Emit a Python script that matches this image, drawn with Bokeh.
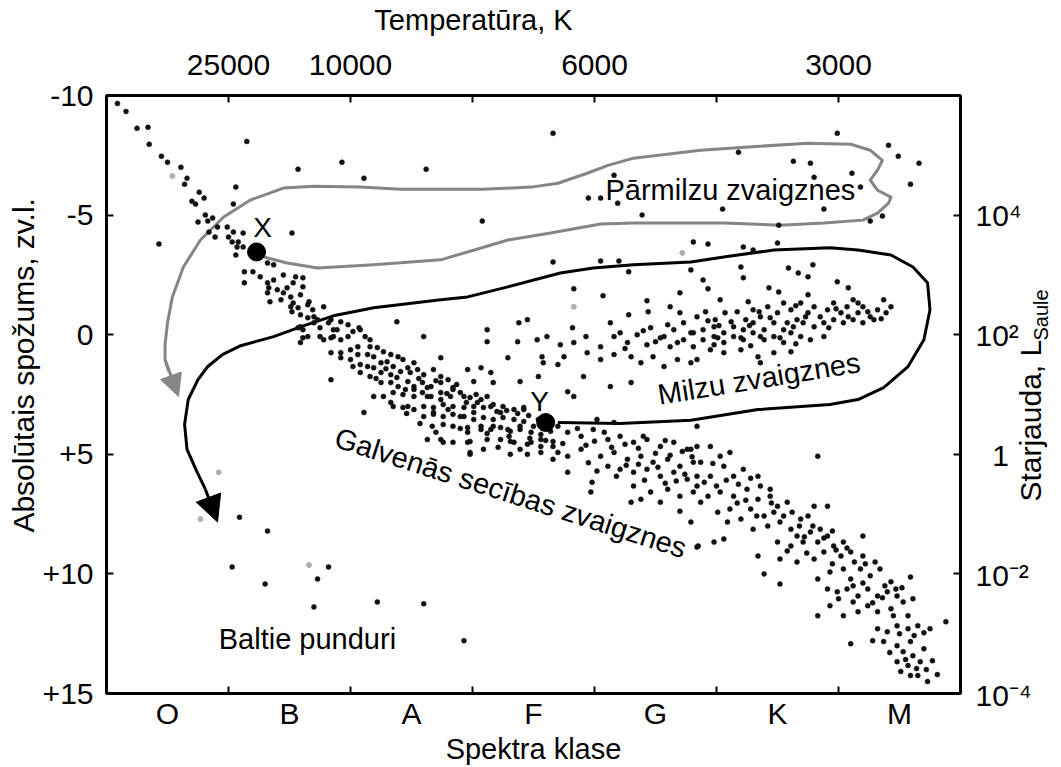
from bokeh.plotting import figure
from bokeh.models import Range1d, LinearAxis, FixedTicker, Label, Arrow, NormalHead
from bokeh.layouts import row, column
from bokeh.embed import file_html
from bokeh.resources import INLINE
import math

FONT = "Liberation Sans"
NBSP = "\u00a0"

# ---- axes: spectral classes (x = class index) and absolute magnitude (y) ----
class_names = ["O", "B", "A", "F", "G", "K", "M"]
class_pos = [0.5, 1.5, 2.5, 3.5, 4.5, 5.5, 6.5]
class_bounds = [1, 2, 3, 4, 5, 6]
temp_ticks = [1, 2, 3, 4, 5, 6]
temp_labels = ["25000", "10000", "", "6000", "", "3000"]
mag_ticks = [-10, -5, 0, 5, 10, 15]
mag_labels = ["-10", "-5", "0", "+5", "+10", "+15"]
lum_ticks = [-5, 0, 5, 10, 15]
lum_labels = ["10\u2074", "10\u00b2", "\u20071", "10\u207b\u00b2", "10\u207b\u2074"]

# ---- stars: (spectral position, absolute magnitude) ----
bright_stars = [
    (0.09, -9.67), (0.16, -9.33), (0.25, -8.63), (0.34, -8.67), (0.35, -7.96), (0.45, -7.46),
    (0.50, -7.21), (0.61, -7.00), (0.66, -6.54), (0.64, -6.29), (0.76, -5.96), (0.80, -5.71),
    (0.70, -5.58), (0.73, -5.46), (1.06, -6.17), (1.04, -5.46), (1.15, -8.08), (1.57, -6.92),
    (1.93, -7.21), (2.11, -6.54), (1.52, -4.25), (0.43, -3.79), (0.75, -4.71), (0.81, -5.00),
    (0.83, -4.75), (0.87, -4.88), (0.91, -4.50), (0.84, -4.29), (0.89, -4.08), (0.99, -4.50),
    (1.00, -4.08), (1.04, -4.29), (1.03, -3.88), (1.08, -3.88), (1.12, -4.25), (1.07, -3.67),
    (1.12, -3.67), (1.06, -3.33),
    (3.66, -8.42), (2.62, -6.92), (4.16, -6.67), (3.95, -5.71), (4.05, -5.71), (4.19, -5.50),
    (3.08, -4.75), (4.39, -5.00), (3.66, -3.04), (4.05, -3.08), (4.20, -3.08), (4.28, -2.63),
    (4.79, -2.71), (3.83, -1.92), (4.07, -1.63), (4.43, -1.42), (4.70, -1.75),
    (5.99, -8.42), (6.41, -7.92), (6.49, -7.46), (6.66, -7.17), (6.59, -6.29), (5.18, -7.63),
    (5.63, -7.25), (5.77, -7.17), (6.11, -6.75), (5.80, -6.58), (6.18, -6.17), (5.05, -5.25),
    (5.88, -5.25), (6.26, -4.75), (6.36, -4.96), (5.51, -4.58), (4.81, -3.88), (4.93, -3.79),
    (5.22, -3.67), (5.50, -3.83), (5.30, -3.54),
]

giant_stars = [
    (5.59, -2.79), (5.67, -2.58), (5.79, -2.92), (5.20, -2.83), (4.89, -2.29), (5.22, -2.38),
    (5.75, -2.42), (5.99, -2.21), (6.08, -1.96), (4.93, -1.92), (5.51, -1.79), (5.43, -1.96),
    (5.03, -1.46), (5.26, -1.38), (5.75, -1.67), (6.37, -1.46), (6.16, -1.33),
    (4.84, -0.75), (4.91, -0.96), (4.99, -0.63), (5.07, -0.92), (5.17, -0.96), (5.24, -0.63),
    (5.30, -1.04), (5.36, -0.75), (5.42, -1.17), (5.50, -0.92), (5.55, -1.33), (5.61, -1.04),
    (5.66, -0.63), (5.69, -1.33), (5.75, -0.92), (5.80, -1.17), (5.85, -0.75), (5.91, -1.04),
    (5.96, -1.33), (6.02, -0.92), (6.07, -1.17), (6.12, -1.46), (6.16, -0.92), (6.20, -1.17),
    (6.26, -0.75), (6.32, -1.04), (6.39, -0.92), (6.43, -1.17),
    (4.89, -0.21), (4.98, -0.33), (5.06, -0.08), (5.14, -0.33), (5.22, -0.21), (5.30, -0.50),
    (5.39, -0.21), (5.47, -0.50), (5.55, -0.21), (5.63, -0.33), (5.71, -0.50), (5.80, -0.33),
    (5.88, -0.50), (5.96, -0.63), (6.04, -0.50), (6.12, -0.63), (6.20, -0.50), (6.29, -0.63),
    (5.36, 0.08), (5.52, 0.13), (5.69, 0.08), (5.88, 0.08), (5.20, 0.13), (5.01, 0.13),
    (3.82, -0.29), (4.13, -0.50), (4.21, -0.08), (4.46, -0.29), (4.57, 0.08), (4.65, -0.21),
    (4.73, -0.50), (4.79, -0.08), (4.28, -0.83), (4.44, -0.96), (4.62, -1.17), (4.70, -0.92),
    (4.81, -0.08), (4.89, 0.21), (4.98, 0.08), (5.06, 0.33), (5.14, 0.08), (5.22, 0.21),
    (5.30, -0.08), (5.39, 0.21), (5.47, 0.08), (5.55, 0.33), (5.61, -0.08), (5.77, 0.21),
    (4.95, 0.63), (5.06, 0.75), (5.20, 0.63), (5.34, 0.92), (5.47, 0.75), (5.61, 0.71),
    (4.84, 1.04), (5.36, 1.17),
    (3.72, 0.42), (3.83, 0.33), (3.93, 0.08), (4.05, 0.50), (4.16, 0.08), (4.27, 0.33),
    (4.35, 0.00), (4.43, 0.42), (4.54, 0.13), (4.62, 0.50), (4.73, 0.21), (4.81, 0.50),
    (3.94, 0.75), (4.05, 1.04), (4.16, 0.83), (4.30, 0.92), (4.38, 1.17), (4.48, 0.92),
    (4.57, 1.33), (4.68, 1.04), (4.79, 1.17), (3.91, 1.75), (4.13, 2.17), (4.30, 2.00),
    (3.70, 1.25), (3.75, 0.92), (3.78, 2.38), (3.83, 2.58),
    (2.60, 0.08), (2.74, 0.96), (2.96, 1.46), (3.07, 1.38), (3.12, -0.21), (3.12, 0.29),
    (3.29, 0.96), (3.38, -0.50), (3.45, -0.63), (3.37, 0.29), (3.53, 0.21), (3.61, 0.08),
    (3.57, 0.92), (3.58, 1.17), (3.54, 1.75), (3.39, 1.96), (3.17, 2.00), (3.15, 1.58),
    (3.01, 1.96), (2.38, -0.54),
    (5.12, -0.54), (5.27, -0.38), (5.44, -0.71), (5.58, -0.50), (5.73, -0.75), (5.92, -0.29),
    (6.08, -0.75), (6.24, -0.96), (5.02, -0.38), (4.93, -0.58), (5.35, -0.96), (5.65, -1.21),
    (5.98, -1.08), (6.35, -0.67), (4.60, -0.42), (4.40, -0.17), (4.50, 0.29), (4.68, 0.33),
    (4.25, 0.58), (4.98, 0.42), (5.28, 0.46), (5.65, 0.38),
]

main_sequence = [
    (1.13, -2.63), (1.26, -2.42), (1.32, -2.17), (1.37, -2.29), (1.45, -2.50), (1.55, -2.42),
    (1.61, -2.38), (1.32, -1.75), (1.40, -1.88), (1.48, -1.96), (1.53, -2.17), (1.61, -2.00),
    (1.34, -1.38), (1.43, -1.46), (1.51, -1.58), (1.59, -1.67), (1.51, -1.17), (1.57, -1.13),
    (1.65, -1.25), (1.69, -1.04), (1.78, -1.17), (1.52, -0.96), (1.59, -0.83), (1.65, -0.71),
    (1.73, -0.63), (1.57, -0.29), (1.61, -0.21), (1.61, 0.13), (1.65, 0.08), (1.75, -0.29),
    (1.82, -0.50), (1.86, -0.21), (1.92, -0.54), (1.98, -0.42), (1.78, 0.21), (1.84, 0.13),
    (1.92, 0.21), (1.98, 0.08), (2.02, -0.13), (2.07, -0.29), (2.12, 0.08), (2.16, 0.21),
    (1.13, -2.17), (1.20, -2.63), (1.37, -2.92), (1.32, -3.00), (1.33, -1.96), (1.45, -1.75),
    (1.53, -1.33), (1.66, -1.38), (1.70, -0.75), (1.59, -0.33), (1.70, -0.50), (1.84, -0.63),
    (1.89, -0.21), (2.08, -0.21), (1.75, 0.08), (1.86, 0.08), (1.59, 0.33),
    (1.84, 0.75), (1.92, 0.75), (2.00, 0.63), (2.06, 0.50), (2.16, 0.50), (2.22, 0.54),
    (1.92, 0.96), (2.00, 1.04), (2.06, 0.83), (2.14, 0.83), (2.19, 0.92), (2.27, 0.71),
    (2.33, 0.83), (2.39, 0.92), (2.02, 1.33), (2.08, 1.25), (2.14, 1.33), (2.19, 1.38),
    (2.25, 1.17), (2.30, 1.13), (2.35, 1.33), (2.43, 1.04), (2.52, 1.17), (2.08, 1.58),
    (2.16, 1.75), (2.25, 1.58), (2.33, 1.67), (2.41, 1.54), (2.47, 1.38), (2.55, 1.46),
    (2.60, 1.67), (2.68, 1.46), (2.74, 1.75), (2.25, 2.00), (2.33, 2.00), (2.39, 2.17),
    (2.47, 1.96), (2.52, 2.17), (2.59, 2.00), (2.66, 2.17), (2.74, 2.00), (2.80, 1.88),
    (2.84, 2.21), (1.84, 1.88), (2.19, 2.58), (2.27, 2.58), (2.35, 2.42), (2.43, 2.50),
    (2.52, 2.58), (2.59, 2.42), (2.66, 2.58), (2.74, 2.42), (2.82, 2.58), (2.90, 2.42),
    (2.98, 2.63), (3.07, 2.71), (2.35, 3.00), (2.43, 3.04), (2.52, 3.13), (2.60, 3.00),
    (2.68, 3.04), (2.76, 2.92), (2.84, 3.00), (2.93, 3.04), (3.01, 3.00), (3.09, 3.04),
    (3.17, 2.92), (3.25, 3.00), (3.34, 3.13), (3.42, 3.04), (2.11, 3.25), (2.60, 3.42),
    (2.68, 3.33), (2.76, 3.42), (2.84, 3.33), (2.93, 3.42), (3.01, 3.54), (3.09, 3.46),
    (3.17, 3.54), (3.25, 3.46), (3.34, 3.54), (3.42, 3.63), (3.50, 3.83), (2.67, 3.83),
    (2.76, 3.75), (2.84, 3.83), (2.96, 3.88), (3.07, 3.83), (3.15, 3.96), (3.23, 3.88),
    (3.31, 4.04), (3.39, 3.96), (3.48, 4.08), (3.56, 4.17), (3.64, 4.04), (2.63, 4.38),
    (2.74, 4.38), (2.84, 4.50), (2.98, 4.46), (3.12, 4.38), (3.21, 4.71), (3.31, 4.46),
    (3.39, 4.79), (3.48, 4.50), (3.56, 4.67), (3.66, 4.46), (3.70, 4.92), (2.98, 4.92),
    (3.09, 4.79),
    (2.49, 1.58), (2.84, 2.29), (2.52, 2.29), (2.63, 2.58), (2.74, 2.71), (2.93, 2.58),
    (3.04, 2.83), (3.15, 3.00), (3.23, 3.25), (3.42, 3.13), (2.68, 3.25), (2.80, 3.13),
    (2.90, 3.42), (3.01, 3.25), (3.17, 3.83), (3.29, 3.96), (3.39, 3.83), (2.96, 4.08),
    (3.07, 3.96), (3.23, 4.38), (3.34, 4.50), (3.45, 4.58), (3.56, 4.38), (3.66, 4.67),
    (2.96, 4.50), (2.98, 5.00), (3.31, 5.00), (3.45, 5.00), (3.56, 4.92), (3.66, 5.21),
    (3.78, 5.08), (2.76, 4.50), (2.47, 3.00),
    (3.78, 4.08), (3.89, 4.25), (3.99, 3.96), (4.11, 4.38), (4.21, 4.25), (4.32, 4.50),
    (4.43, 4.38), (4.54, 4.67), (4.65, 4.50), (4.76, 4.79), (4.84, 4.67), (3.89, 4.79),
    (4.05, 5.08), (4.16, 4.92), (4.27, 5.21), (4.38, 5.08), (4.48, 5.33), (4.60, 5.21),
    (4.70, 5.50), (4.81, 5.33), (4.11, 5.50), (4.21, 5.63), (4.32, 5.75), (4.43, 5.63),
    (4.54, 5.92), (4.65, 5.75), (4.76, 6.04), (4.84, 5.92), (4.32, 6.33), (4.46, 6.58),
    (4.60, 6.46), (4.70, 6.75), (4.81, 6.58), (4.30, 7.00), (4.38, 6.88), (4.54, 7.00),
    (4.70, 7.38), (4.79, 7.83), (4.84, 8.88), (3.97, 6.58), (3.98, 6.17), (3.78, 5.75),
    (3.70, 3.83), (4.02, 3.54), (4.16, 3.67),
    (4.79, 4.79), (4.87, 5.33), (4.95, 4.67), (5.03, 5.08), (5.11, 4.92), (5.06, 5.50),
    (5.14, 5.92), (5.22, 5.63), (4.95, 5.92), (4.84, 6.33), (4.93, 6.75), (5.03, 6.58),
    (5.14, 6.75), (5.25, 6.46), (5.36, 6.33), (5.34, 6.88), (5.44, 6.75), (5.50, 7.17),
    (5.58, 7.00), (5.28, 7.29), (5.39, 7.58), (5.47, 7.42), (5.20, 7.71), (5.30, 8.13),
    (5.42, 8.00), (5.52, 7.83), (5.61, 8.13), (5.69, 7.71), (5.75, 7.58), (5.80, 7.17),
    (5.91, 7.17), (5.83, 5.08), (5.66, 8.42), (5.77, 8.25), (5.85, 8.13), (5.50, 8.67),
    (5.61, 8.83), (5.71, 8.67), (5.83, 8.67), (5.91, 8.42), (5.96, 8.83), (6.04, 8.67),
    (5.34, 9.25), (5.52, 9.38), (5.66, 9.50), (5.80, 9.38), (5.88, 9.08), (6.02, 9.25),
    (6.10, 9.08), (6.20, 8.42), (6.20, 9.25), (5.39, 10.00), (5.52, 10.42), (5.83, 10.21),
    (5.93, 9.92), (6.04, 9.79), (6.10, 10.21), (6.18, 9.79), (6.26, 10.08), (6.34, 9.79),
    (6.43, 10.33), (5.91, 10.63), (5.99, 10.75), (6.07, 10.63), (6.16, 10.92), (6.24, 10.63),
    (6.32, 10.92), (6.40, 10.75), (6.48, 10.92), (6.59, 10.13), (6.61, 11.04), (5.93, 11.33),
    (6.04, 11.75), (6.16, 11.58), (6.24, 11.33), (6.32, 11.58), (6.43, 11.46), (6.53, 11.17),
    (6.57, 11.75), (5.83, 11.75), (6.32, 12.29), (6.40, 12.42), (6.48, 12.17), (6.57, 12.29),
    (6.65, 12.17), (6.75, 12.29), (6.88, 12.00), (6.10, 12.92), (6.28, 12.79), (6.37, 12.83),
    (6.48, 13.00), (6.59, 12.83), (6.53, 13.25), (6.61, 13.42), (6.70, 13.13), (6.48, 13.67),
    (6.57, 13.83), (6.67, 13.67), (6.77, 13.63), (6.51, 14.08), (6.59, 14.25), (6.65, 14.25),
    (6.73, 14.50), (5.11, 7.29), (5.01, 7.42), (5.09, 7.83), (4.87, 7.00), (5.06, 8.54),
    (4.98, 8.67), (4.85, 8.83), (5.34, 5.92), (5.44, 6.46), (4.84, 3.83),
    (3.74, 4.55), (3.86, 3.92), (3.93, 4.62), (4.00, 4.45), (4.08, 4.08), (4.14, 4.71),
    (4.25, 4.58), (4.36, 4.75), (4.40, 4.25), (4.50, 4.96), (4.58, 4.42), (4.62, 5.04),
    (4.72, 4.88), (4.80, 5.10), (3.95, 5.35), (4.02, 5.70), (4.18, 5.92), (4.26, 5.46),
    (4.36, 5.42), (4.41, 6.08), (4.52, 5.54), (4.58, 6.21), (4.67, 6.12), (4.74, 5.83),
    (4.90, 6.17), (4.97, 5.38), (5.00, 6.33), (5.08, 6.08), (5.18, 6.25), (5.28, 6.00),
    (5.17, 7.04), (5.24, 6.92), (5.33, 7.58), (5.45, 7.04), (5.55, 7.58), (5.62, 7.42),
    (5.68, 8.00), (5.72, 8.45), (5.79, 8.00), (5.88, 8.50), (5.95, 8.21), (5.98, 9.00),
    (6.07, 8.92), (6.13, 9.50), (5.95, 9.58), (5.74, 9.13), (5.58, 9.04), (6.22, 9.58),
    (6.30, 9.50), (6.12, 10.50), (6.20, 10.38), (6.38, 10.50), (6.47, 10.63), (6.52, 10.58),
    (6.00, 11.04), (6.12, 11.17), (6.28, 11.21), (6.36, 11.00), (6.45, 11.75), (6.50, 12.50),
    (6.62, 12.58), (6.70, 12.46), (6.42, 13.29), (6.55, 13.58), (6.64, 13.96), (6.72, 14.00),
    (6.81, 14.21),
    (2.21, 1.83), (2.29, 1.42), (2.38, 1.79), (2.45, 2.29), (2.56, 1.83), (2.63, 2.21),
    (2.70, 1.92), (2.79, 2.46), (2.87, 2.08), (2.95, 2.83), (3.03, 2.50), (3.12, 2.58),
    (3.20, 3.21), (3.28, 3.17), (3.37, 3.29), (3.46, 3.38), (3.54, 3.54), (3.60, 4.42),
    (3.47, 4.33), (3.30, 4.25), (3.12, 4.13), (2.90, 3.92), (2.70, 4.08), (2.57, 3.71),
    (2.46, 3.29), (2.33, 2.83),
]

white_dwarfs = [
    (1.09, 7.63), (1.32, 8.21), (1.03, 9.71), (1.30, 10.42), (1.73, 10.21), (1.82, 9.71),
    (1.70, 11.38), (2.22, 11.17), (2.60, 11.25), (2.93, 12.79),
]

faint_stars = [
    (0.92, 5.75), (0.77, 7.71), (1.66, 9.63), (0.54, -6.63), (4.72, -3.42), (3.83, -1.17),
]

# ---- evolutionary tracks ----
track_x_star = (1.23, -3.46)
track_y_star = (3.60, 3.67)

grey_track = [
    (1.29, -3.25), (1.48, -3.00), (1.73, -2.79), (2.19, -2.92), (2.74, -3.13), (2.96, -3.46),
    (3.29, -3.96), (3.64, -4.25), (4.05, -4.63), (4.32, -4.67), (4.79, -4.67), (5.06, -4.67),
    (5.52, -4.58), (5.88, -4.67), (6.20, -4.79), (6.32, -5.08), (6.41, -5.50), (6.43, -5.75),
    (6.32, -6.04), (6.26, -6.46), (6.32, -6.88), (6.36, -7.29), (6.26, -7.71), (6.10, -7.96),
    (5.75, -8.00), (5.20, -7.83), (4.87, -7.71), (4.32, -7.38), (4.11, -7.08), (3.94, -6.75),
    (3.70, -6.33), (3.48, -6.17), (3.09, -6.08), (2.41, -6.08), (2.08, -6.17), (1.70, -6.21),
    (1.45, -6.13), (1.18, -5.63), (0.96, -4.92), (0.77, -3.96), (0.63, -2.83), (0.54, -1.58),
    (0.50, -0.50), (0.48, 0.42), (0.48, 1.04), (0.51, 1.54),
]
grey_arrow = ((0.48, 1.04), (0.59, 2.58))

black_track = [
    (3.70, 3.67), (4.21, 3.71), (4.79, 3.58), (5.34, 3.13), (5.93, 2.92), (6.16, 2.71),
    (6.37, 2.21), (6.57, 1.33), (6.70, 0.21), (6.75, -1.04), (6.73, -2.17), (6.61, -2.83),
    (6.43, -3.33), (6.16, -3.54), (5.93, -3.63), (5.47, -3.54), (5.06, -3.25), (4.79, -3.04),
    (4.32, -2.92), (3.99, -2.79), (3.72, -2.58), (3.29, -2.00), (2.96, -1.58), (2.74, -1.46),
    (2.19, -1.13), (1.86, -0.79), (1.59, -0.33), (1.37, 0.08), (1.10, 0.46), (0.95, 0.83),
    (0.83, 1.33), (0.75, 1.88), (0.67, 2.71), (0.64, 3.75), (0.66, 4.79), (0.74, 5.71),
    (0.81, 6.46),
]
black_arrow = ((0.81, 6.46), (0.91, 7.83))


def xs(pts):
    return [a for a, b in pts]


def ys(pts):
    return [b for a, b in pts]


def blank(fig):
    fig.grid.visible = False
    fig.outline_line_color = None
    fig.background_fill_color = "white"
    fig.border_fill_color = "white"
    if "frame_align" in fig.properties():
        fig.frame_align = False


def lab(fig, x, y, text, size="29px", align="left", baseline="alphabetic", angle=0.0):
    fig.add_layout(Label(x=x, y=y, text=text, text_font=FONT, text_font_size=size,
                         text_color="black", text_align=align, text_baseline=baseline,
                         angle=angle))


# ---------------- main chart ----------------
p = figure(width=962, height=731,
           x_range=Range1d(0, 7), y_range=Range1d(15, -10),
           output_backend="svg", toolbar_location=None,
           x_axis_location=None, y_axis_location=None,
           min_border_left=106, min_border_right=2,
           min_border_top=59, min_border_bottom=72)
p.grid.visible = False
p.outline_line_color = "black"
p.outline_line_width = 3
p.background_fill_color = "white"
p.border_fill_color = "white"


def style(ax):
    ax.axis_line_color = None
    ax.major_tick_line_color = "black"
    ax.major_tick_line_width = 2
    ax.major_tick_in = 7
    ax.major_tick_out = 0
    ax.minor_tick_line_color = None
    ax.major_label_text_font = FONT
    ax.major_label_text_font_size = "30px"
    ax.major_label_text_color = "black"
    ax.axis_label_text_font = FONT
    ax.axis_label_text_font_style = "normal"
    ax.axis_label_text_color = "black"


bottom = LinearAxis(ticker=FixedTicker(ticks=class_pos, minor_ticks=class_bounds),
                    major_label_overrides=dict(zip(class_pos, class_names)))
style(bottom)
bottom.major_tick_in = 0
bottom.minor_tick_line_color = "black"
bottom.minor_tick_line_width = 2
bottom.minor_tick_in = 7
bottom.minor_tick_out = 0
bottom.major_label_standoff = 3
bottom.axis_label = "Spektra klase"
bottom.axis_label_text_font_size = "29px"
bottom.axis_label_standoff = 0
p.add_layout(bottom, "below")

top = LinearAxis(ticker=FixedTicker(ticks=temp_ticks),
                 major_label_overrides=dict(zip(temp_ticks, temp_labels)))
style(top)
top.major_label_standoff = 21
p.add_layout(top, "above")

left = LinearAxis(ticker=FixedTicker(ticks=mag_ticks),
                  major_label_overrides=dict(zip(mag_ticks, mag_labels)))
style(left)
left.major_label_standoff = 13
left.axis_label = NBSP * 7 + "Absol\u016btais spo\u017eums, zv.l."
left.axis_label_text_font_size = "30px"
left.axis_label_standoff = 0
p.add_layout(left, "left")

# right axis: tick marks only (its labels sit in the side panel)
right = LinearAxis(ticker=FixedTicker(ticks=lum_ticks),
                   major_label_overrides={t: "" for t in lum_ticks})
style(right)
right.major_label_standoff = 0
p.add_layout(right, "right")

# tracks
p.line(xs(grey_track), ys(grey_track), line_color="#858585", line_width=3, line_join="round")
p.line(xs(black_track), ys(black_track), line_color="black", line_width=3, line_join="round")
p.add_layout(Arrow(end=NormalHead(size=22, fill_color="#858585", line_color="#858585"),
                   x_start=grey_arrow[0][0], y_start=grey_arrow[0][1],
                   x_end=grey_arrow[1][0], y_end=grey_arrow[1][1],
                   line_color="#858585", line_width=3))
p.add_layout(Arrow(end=NormalHead(size=26, fill_color="black", line_color="black"),
                   x_start=black_arrow[0][0], y_start=black_arrow[0][1],
                   x_end=black_arrow[1][0], y_end=black_arrow[1][1],
                   line_color="black", line_width=3))

# stars
for grp in (bright_stars, giant_stars, main_sequence, white_dwarfs):
    p.scatter(xs(grp), ys(grp), marker="circle", size=5, fill_color="#111111",
              line_color="#111111", line_width=0.5)
p.scatter(xs(faint_stars), ys(faint_stars), marker="circle", size=5,
          fill_color="#b0b0b0", line_color="#b0b0b0")
p.scatter([track_x_star[0], track_y_star[0]], [track_x_star[1], track_y_star[1]],
          marker="circle", size=18, fill_color="black", line_color="black")

lab(p, 1.28, -4.48, "X", size="28px", align="center")
lab(p, 3.55, 2.81, "Y", size="28px", align="center")
lab(p, 4.09, -6.03, "P\u0101rmilzu zvaigznes")
lab(p, 4.52, 2.52, "Milzu zvaigznes", angle=0.162)
lab(p, 1.88, 4.27, "Galven\u0101s sec\u012bbas zvaigznes", angle=-0.31)
lab(p, 0.92, 12.73, "Baltie punduri")

# ---------------- top strip: temperature title ----------------
pt = figure(width=1061, height=36, x_range=Range1d(0, 1061), y_range=Range1d(36, 0),
            output_backend="svg", toolbar_location=None,
            x_axis_location=None, y_axis_location=None,
            min_border_left=0, min_border_right=0, min_border_top=0, min_border_bottom=0)
blank(pt)
lab(pt, 473, 19, "Temperat\u016bra, K", align="center", baseline="middle")

# ---------------- right strip: luminosity scale and title ----------------
p2 = figure(width=99, height=731, frame_width=99, frame_height=731,
            x_range=Range1d(962, 1061), y_range=Range1d(18.0, -12.4583),
            output_backend="svg", toolbar_location=None,
            x_axis_location=None, y_axis_location=None,
            min_border_left=0, min_border_right=0, min_border_top=0, min_border_bottom=0)
blank(p2)
for t, s in zip(lum_ticks, lum_labels):
    lab(p2, 975, t, s, size="30px", baseline="middle")
lab(p2, 1030, 6.92, "Starjauda, L", size="30px", baseline="middle", angle=math.pi / 2)
lab(p2, 1040, 0.21, "Saule", size="20px", baseline="middle", angle=math.pi / 2)

layout = column(pt, row(p, p2))
open("out.html", "w").write(file_html(layout, INLINE))
